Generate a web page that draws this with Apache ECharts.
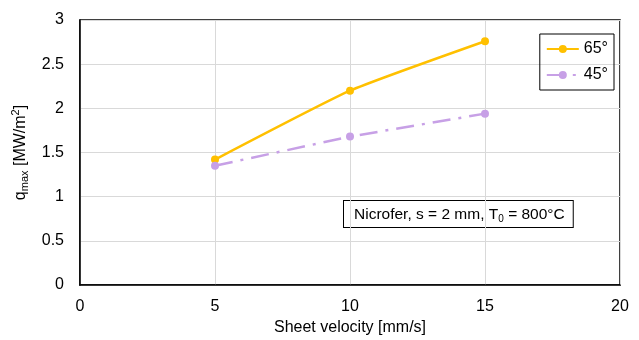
<!DOCTYPE html>
<html><head><meta charset="utf-8">
<script src="https://cdn.jsdelivr.net/npm/echarts@6/dist/echarts.min.js"></script>
<style>html,body{margin:0;padding:0;background:#fff}#c{width:639px;height:340px}</style>
</head><body><div id="c"></div>
<script>
const velocities = [5, 10, 15];
const q65 = [1.42, 2.20, 2.76];
const q45 = [1.35, 1.68, 1.94];
const seriesNames = ['65°', '45°'];
const xTicks = [0, 5, 10, 15, 20];
const yTicks = [0, 0.5, 1, 1.5, 2, 2.5, 3];

const font = 'Liberation Sans, Arial, sans-serif';
const chart = echarts.init(document.getElementById('c'), null, {renderer: 'canvas'});
chart.setOption({
  animation: false,
  textStyle: {fontFamily: font},
  grid: {left: 80, right: 19, top: 20, bottom: 55, show: true, borderColor: '#000', borderWidth: 1.5, outerBoundsMode: 'none', containLabel: false},
  xAxis: {
    type: 'value', min: 0, max: 20, interval: 5,
    name: 'Sheet velocity [mm/s]', nameLocation: 'middle', nameGap: 35,
    nameTextStyle: {fontSize: 16, color: '#000', fontFamily: font},
    axisLine: {show: true, lineStyle: {color: '#000', width: 1.5}},
    axisTick: {show: false},
    axisLabel: {fontSize: 16, color: '#000', margin: 14, fontFamily: font},
    splitLine: {show: true, lineStyle: {color: '#d9d9d9', width: 1}}
  },
  yAxis: {
    type: 'value', min: 0, max: 3, interval: 0.5,
    name: '{a|q}{s|max}{a| [MW/m}{p|2}{a|]}', nameLocation: 'middle', nameGap: 48, nameRotate: 90,
    nameTextStyle: {
      color: '#000', fontFamily: font,
      rich: {
        a: {fontSize: 16, color: '#000', fontFamily: font, lineHeight: 20, verticalAlign: 'middle'},
        s: {fontSize: 11, color: '#000', fontFamily: font, lineHeight: 12, verticalAlign: 'bottom'},
        p: {fontSize: 11, color: '#000', fontFamily: font, lineHeight: 12, verticalAlign: 'top'}
      }
    },
    axisLine: {show: true, lineStyle: {color: '#000', width: 1.5}},
    axisTick: {show: false},
    axisLabel: {fontSize: 16, color: '#000', margin: 16, fontFamily: font},
    splitLine: {show: true, lineStyle: {color: '#d9d9d9', width: 1}}
  },
  legend: {
    orient: 'vertical', right: 25, top: 34,
    data: seriesNames,
    borderColor: '#000', borderWidth: 1, padding: [7, 6, 7, 6],
    itemGap: 10, itemWidth: 32, itemHeight: 10,
    textStyle: {fontSize: 16, color: '#000', fontFamily: font}
  },
  series: [
    {
      name: seriesNames[0], type: 'line', smooth: 0.15,
      data: velocities.map((v, i) => [v, q65[i]]),
      symbol: 'circle', symbolSize: 8,
      itemStyle: {color: '#FFC000'},
      lineStyle: {color: '#FFC000', width: 2.5}
    },
    {
      name: seriesNames[1], type: 'line',
      data: velocities.map((v, i) => [v, q45[i]]),
      symbol: 'circle', symbolSize: 8,
      itemStyle: {color: '#C7A0E6'},
      lineStyle: {color: '#C7A0E6', width: 2.5, type: [18, 8, 3, 8]}
    }
  ],
  graphic: [{
    type: 'text', left: 343, top: 200,
    style: {
      text: '{a|Nicrofer, s = 2 mm, T}{s|0}{a| = 800°C}',
      fill: '#000', padding: [4, 8, 3, 10],
      borderColor: '#000', borderWidth: 1, backgroundColor: '#fff',
      rich: {
        a: {fontSize: 15.5, fontFamily: font, fill: '#000', lineHeight: 19, verticalAlign: 'middle'},
        s: {fontSize: 10, fontFamily: font, fill: '#000', lineHeight: 11, verticalAlign: 'bottom'}
      }
    }
  }]
});
</script></body></html>
